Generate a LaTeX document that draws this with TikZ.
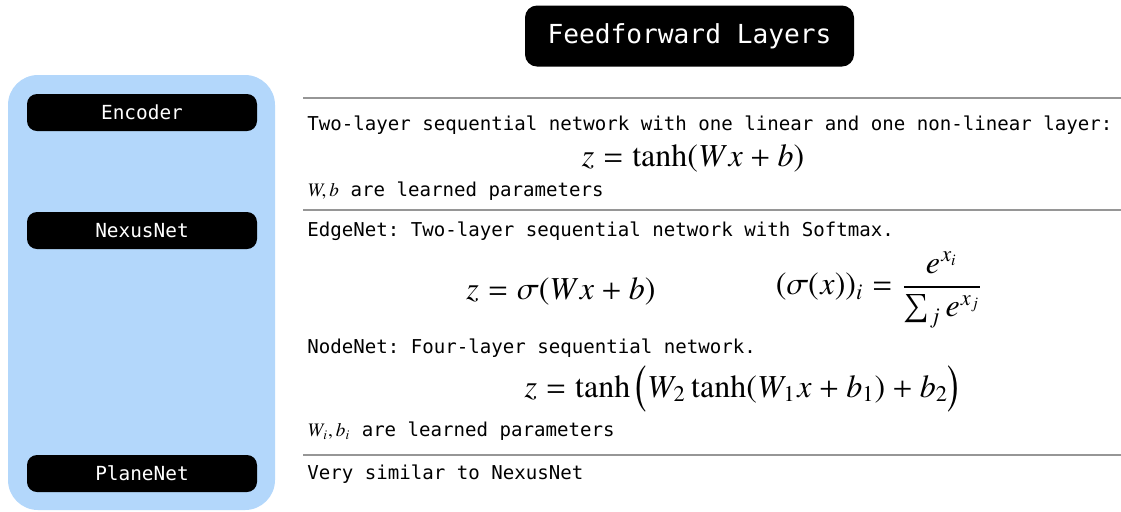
\documentclass[tikz,border=0pt]{standalone}
\usepackage{amsmath}
\usepackage{txfonts}
\usepackage{fontspec}
\setmonofont{DejaVu Sans Mono}
\usetikzlibrary{positioning}
\definecolor{panelblue}{RGB}{179,215,251}
\definecolor{rulegray}{RGB}{150,150,150}

\begin{document}
\begin{tikzpicture}[x=0.5pt,y=-0.5pt,
  titlebox/.style={fill=black,text=white,rounded corners=6pt,inner sep=0pt,
    minimum width=164.5pt,minimum height=30.5pt,font=\ttfamily\fontsize{13.1}{15}\selectfont},
  netbox/.style={fill=black,text=white,rounded corners=5pt,inner sep=0pt,
    minimum width=115pt,minimum height=18.5pt,font=\ttfamily\fontsize{9.7}{11}\selectfont},
  desc/.style={anchor=west,inner sep=0pt,font=\ttfamily\fontsize{9.55}{11}\selectfont},
  eqn/.style={inner sep=0pt,font=\fontsize{16}{18}\selectfont},
  sep/.style={rulegray,line width=0.6pt}]
\useasboundingbox (0,0) rectangle (1121,511);

\node[titlebox] (title) at (689.5,36) {Feedforward Layers};

\fill[panelblue,rounded corners=15pt] (8,75) rectangle (275,510);
\node[netbox] (enc) at (142,112.5) {Encoder};
\node[netbox] (nexus) at (142,230.5) {NexusNet};
\node[netbox] (plane) at (142,473.5) {PlaneNet};

\draw[sep] (303,98) -- (1121,98);
\draw[sep] (303,210) -- (1121,210);
\draw[sep] (303,455) -- (1121,455);

\node[desc] (encdesc) at (307,125) {Two-layer sequential network with one linear and one non-linear layer:};
\node[eqn] (enceq) at (693,158) {$z = \tanh(Wx + b)$};
\node[desc] (encpar) at (307,191) {$W,b$ are learned parameters};

\node[desc] (edgedesc) at (307,231) {EdgeNet: Two-layer sequential network with Softmax.};
\node[eqn] (edgeeq) at (561,292) {$z = \sigma(Wx + b)$};
\node[eqn] (softmax) at (879,290) {$\displaystyle (\sigma(x))_i = \frac{e^{x_i}}{\textstyle\sum_j e^{x_j}}$};

\node[desc] (nodedesc) at (307,348) {NodeNet: Four-layer sequential network.};
\node[eqn,anchor=base] (nodeeq) at (742,397) {$\smash{z = \tanh\,\Bigl(W_2 \tanh(W_1x + b_1) + b_2\Bigr)}$};
\node[desc] (nodepar) at (307,431) {$W_i,b_i$ are learned parameters};

\node[desc] (planedesc) at (307,474) {Very similar to NexusNet};
\end{tikzpicture}
\end{document}
